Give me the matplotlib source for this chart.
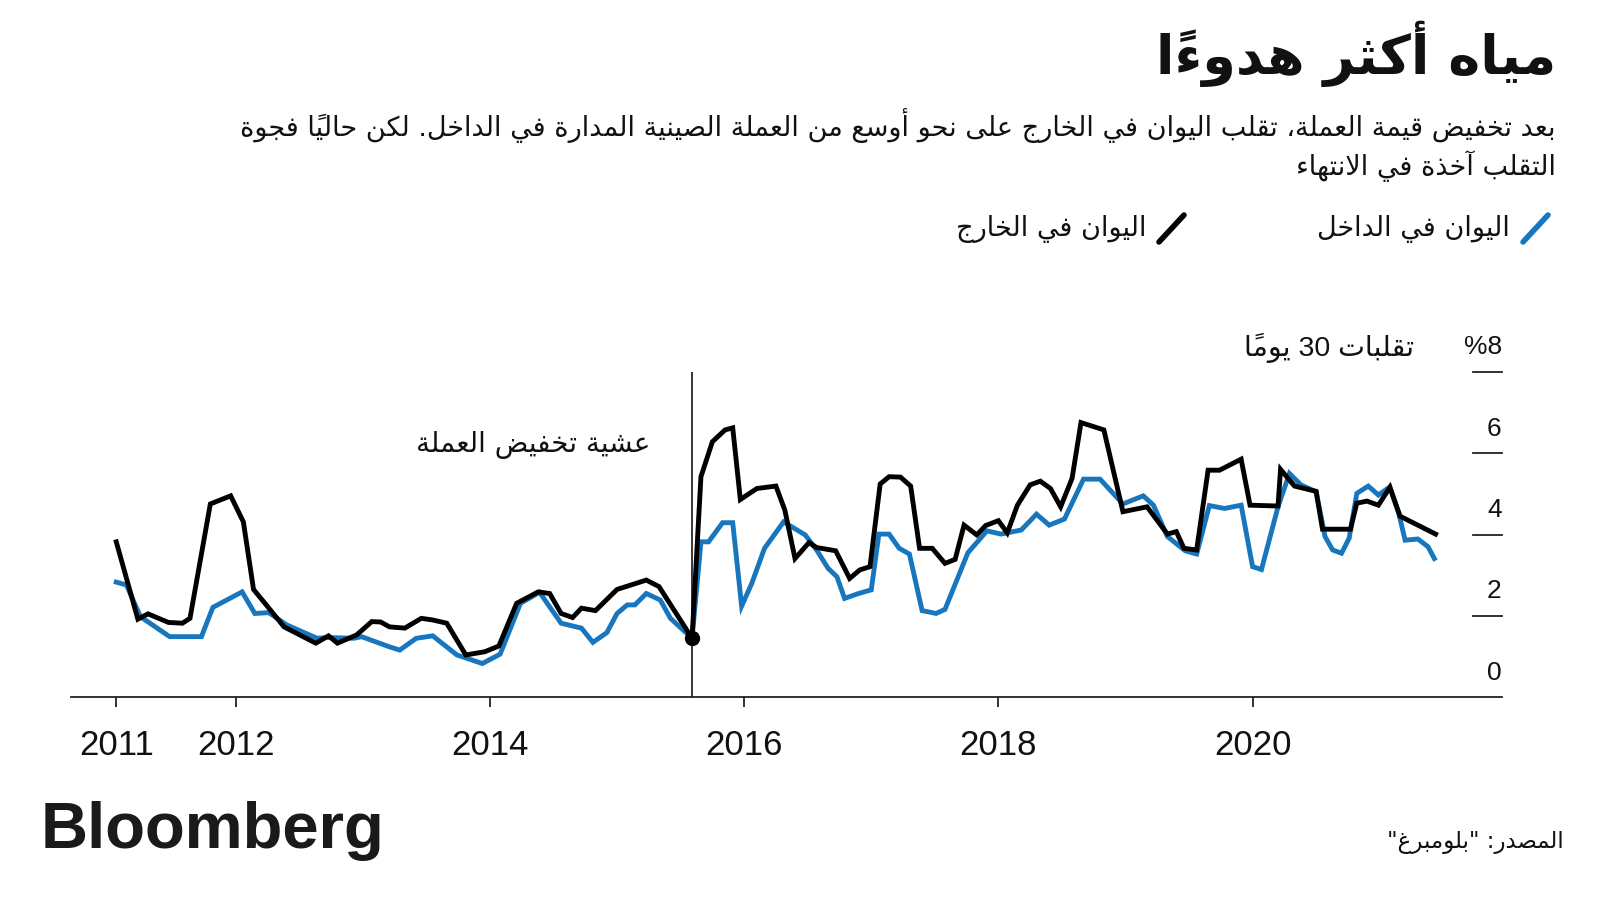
import matplotlib
matplotlib.use("Agg")
import matplotlib.pyplot as plt
from matplotlib.lines import Line2D

plt.rcParams['font.family'] = ['Liberation Sans', 'DejaVu Sans']

# 30-day volatility (%), x in decimal years
onshore_x = [2011.06, 2011.14, 2011.25, 2011.48, 2011.73, 2011.82, 2012.05, 2012.15, 2012.26, 2012.40,
             2012.64, 2012.72, 2012.93, 2012.99, 2013.06, 2013.21, 2013.29, 2013.42, 2013.55, 2013.74,
             2013.94, 2014.08, 2014.24, 2014.39, 2014.56, 2014.72, 2014.81, 2014.92, 2015.00, 2015.08,
             2015.14, 2015.23, 2015.34, 2015.42, 2015.59, 2015.66, 2015.72, 2015.83, 2015.91, 2015.98,
             2016.06, 2016.16, 2016.31, 2016.48, 2016.57, 2016.66, 2016.73, 2016.79, 2016.90, 2017.00,
             2017.06, 2017.14, 2017.22, 2017.30, 2017.40, 2017.51, 2017.58, 2017.76, 2017.91, 2018.02,
             2018.18, 2018.30, 2018.40, 2018.52, 2018.67, 2018.80, 2018.98, 2019.14, 2019.22, 2019.33,
             2019.47, 2019.56, 2019.66, 2019.78, 2019.91, 2020.00, 2020.07, 2020.20, 2020.29, 2020.38,
             2020.50, 2020.57, 2020.63, 2020.70, 2020.76, 2020.82, 2020.91, 2020.99, 2021.08, 2021.15,
             2021.20, 2021.30, 2021.38, 2021.43]
onshore_y = [2.83, 2.76, 1.98, 1.49, 1.49, 2.21, 2.59, 2.06, 2.08, 1.78,
             1.45, 1.47, 1.45, 1.49, 1.41, 1.24, 1.16, 1.45, 1.51, 1.04,
             0.83, 1.06, 2.31, 2.58, 1.82, 1.70, 1.35, 1.59, 2.06, 2.27,
             2.27, 2.55, 2.39, 1.94, 1.45, 3.82, 3.82, 4.29, 4.29, 2.24,
             2.80, 3.66, 4.31, 3.99, 3.62, 3.17, 2.96, 2.43, 2.55, 2.64,
             4.01, 4.01, 3.66, 3.52, 2.13, 2.06, 2.16, 3.55, 4.09, 4.01,
             4.11, 4.50, 4.23, 4.38, 5.36, 5.36, 4.75, 4.95, 4.72, 3.95,
             3.60, 3.52, 4.71, 4.64, 4.72, 3.21, 3.14, 4.68, 5.50, 5.22,
             5.05, 3.95, 3.62, 3.54, 3.91, 5.01, 5.19, 4.97, 5.17, 4.52,
             3.86, 3.89, 3.70, 3.41]

offshore_x = [2011.06, 2011.23, 2011.31, 2011.47, 2011.58, 2011.64, 2011.80, 2011.96, 2012.06, 2012.14,
              2012.24, 2012.38, 2012.63, 2012.73, 2012.80, 2012.95, 2013.07, 2013.14, 2013.21, 2013.33,
              2013.46, 2013.55, 2013.66, 2013.81, 2013.96, 2014.07, 2014.21, 2014.38, 2014.47, 2014.56,
              2014.65, 2014.72, 2014.83, 2015.00, 2015.08, 2015.23, 2015.33, 2015.59, 2015.66, 2015.75,
              2015.85, 2015.91, 2015.97, 2016.10, 2016.25, 2016.32, 2016.40, 2016.51, 2016.57, 2016.72,
              2016.83, 2016.91, 2016.99, 2017.07, 2017.14, 2017.23, 2017.31, 2017.38, 2017.48, 2017.58,
              2017.66, 2017.73, 2017.83, 2017.90, 2018.00, 2018.07, 2018.15, 2018.25, 2018.33, 2018.41,
              2018.49, 2018.58, 2018.65, 2018.83, 2018.98, 2019.17, 2019.33, 2019.40, 2019.46, 2019.56,
              2019.65, 2019.74, 2019.91, 2019.98, 2020.20, 2020.22, 2020.33, 2020.50, 2020.55, 2020.77,
              2020.82, 2020.90, 2020.99, 2021.08, 2021.16, 2021.44]
offshore_y = [3.82, 1.92, 2.05, 1.84, 1.82, 1.94, 4.75, 4.95, 4.31, 2.65,
              2.27, 1.73, 1.33, 1.51, 1.33, 1.53, 1.86, 1.85, 1.73, 1.70,
              1.94, 1.90, 1.82, 1.04, 1.12, 1.26, 2.31, 2.59, 2.55, 2.06,
              1.96, 2.19, 2.13, 2.65, 2.73, 2.88, 2.72, 1.45, 5.42, 6.28,
              6.57, 6.62, 4.86, 5.13, 5.19, 4.60, 3.41, 3.80, 3.68, 3.60,
              2.92, 3.13, 3.21, 5.24, 5.42, 5.41, 5.19, 3.66, 3.66, 3.29,
              3.39, 4.23, 3.99, 4.22, 4.34, 4.04, 4.72, 5.22, 5.31, 5.13,
              4.68, 5.38, 6.75, 6.57, 4.56, 4.68, 4.01, 4.07, 3.66, 3.62,
              5.58, 5.58, 5.85, 4.72, 4.70, 5.60, 5.19, 5.06, 4.13, 4.13,
              4.77, 4.82, 4.72, 5.16, 4.45, 4.01]

deval_x, deval_y = 2015.59, 1.45
year_ticks = [2011.06, 2012, 2014, 2016, 2018, 2020]
year_labels = ['2011', '2012', '2014', '2016', '2018', '2020']
y_ticks = [0, 2, 4, 6, 8]
y_labels = ['0', '2', '4', '6', '%8']

title = 'مياه أكثر هدوءاً'
subtitle = ('بعد تخفيض قيمة العملة، تقلب اليوان في الخارج على نحو أوسع من العملة الصينية المدارة في الداخل. لكن حالياً فجوة\n'
            'التقلب آخذة في الانتهاء')
onshore_name = 'اليوان في الداخل'
offshore_name = 'اليوان في الخارج'
unit_label = 'تقلبات 30 يوماً'
deval_label = 'عشية تخفيض العملة'
source = 'المصدر: "بلومبرغ"'

BLUE = '#1776bd'
BLACK = '#000000'

# --- minimal Arabic shaping + RTL ordering (matplotlib has no complex text layout)
DUAL = dict(zip('\u0626\u0628\u062A\u062B\u062C\u062D\u062E\u0633\u0634\u0635\u0636\u0637'
                '\u0638\u0639\u063A\u0641\u0642\u0643\u0644\u0645\u0646\u0647\u064A',
                [0xFE89, 0xFE8F, 0xFE95, 0xFE99, 0xFE9D, 0xFEA1, 0xFEA5, 0xFEB1, 0xFEB5, 0xFEB9,
                 0xFEBD, 0xFEC1, 0xFEC5, 0xFEC9, 0xFECD, 0xFED1, 0xFED5, 0xFED9, 0xFEDD, 0xFEE1,
                 0xFEE5, 0xFEE9, 0xFEF1]))
RIGHT = dict(zip('\u0622\u0623\u0624\u0625\u0627\u0629\u062F\u0630\u0631\u0632\u0648\u0649',
                 [0xFE81, 0xFE83, 0xFE85, 0xFE87, 0xFE8D, 0xFE93, 0xFEA9, 0xFEAB, 0xFEAD, 0xFEAF,
                  0xFEED, 0xFEEF]))
LAMALEF = dict(zip('\u0622\u0623\u0625\u0627', [0xFEF5, 0xFEF7, 0xFEF9, 0xFEFB]))


def is_mark(c):
    return '\u064B' <= c <= '\u0652'


def shape_line(s):
    n = len(s)

    def nb(i, step):
        j = i + step
        while 0 <= j < n and is_mark(s[j]):
            j += step
        return (s[j], j) if 0 <= j < n else ('', j)

    out = []
    i = 0
    while i < n:
        c = s[i]
        nxt, j = nb(i, 1)
        prev_join = nb(i, -1)[0] in DUAL
        if c == '\u0644' and nxt in LAMALEF:
            out.append(chr(LAMALEF[nxt] + int(prev_join)))
            out.extend(s[i + 1:j])
            i = j + 1
            continue
        if c in DUAL or c in RIGHT:
            next_join = c in DUAL and (nxt in DUAL or nxt in RIGHT)
            base = DUAL[c] if c in DUAL else RIGHT[c]
            form = {(False, False): 0, (True, False): 1, (False, True): 2, (True, True): 3}[(prev_join, next_join)]
            out.append(chr(base + form))
        elif c == '\u0621':
            out.append('\uFE80')
        else:
            out.append(c)
        i += 1
    # group marks with their base, reverse for RTL, keep digit/latin runs LTR
    clusters = []
    for c in out:
        if is_mark(c) and clusters:
            clusters[-1] += c
        else:
            clusters.append(c)
    clusters.reverse()
    res, run = [], []
    for cl in clusters:
        if cl.isascii() and cl.isalnum():
            run.append(cl)
        else:
            res.extend(reversed(run))
            run = []
            res.append(cl)
    res.extend(reversed(run))
    return ''.join(res)


def ar(s):
    return '\n'.join(shape_line(l) for l in s.split('\n'))


def fx(px):
    return px / 1600


def fy(py):
    return 1 - py / 900


fig = plt.figure(figsize=(16, 9), dpi=100)
fig.patch.set_facecolor('white')

AR = ['DejaVu Sans']

fig.text(fx(1556), fy(54), ar(title), family=AR, weight='bold', fontsize=39,
         ha='right', va='center', color='#111111')
fig.text(fx(1556), fy(145), ar(subtitle), family=AR, fontsize=19.5, ha='right', va='center',
         color='#111111', linespacing=1.3)

# legend with slash keys
fig.add_artist(Line2D([fx(1523), fx(1548)], [fy(242), fy(215)], color=BLUE, lw=4,
                      solid_capstyle='round', transform=fig.transFigure))
fig.text(fx(1510), fy(229), ar(onshore_name), family=AR, fontsize=19.5, ha='right', va='center',
         color='#111111')
fig.add_artist(Line2D([fx(1159), fx(1184)], [fy(242), fy(215)], color=BLACK, lw=4,
                      solid_capstyle='round', transform=fig.transFigure))
fig.text(fx(1146), fy(229), ar(offshore_name), family=AR, fontsize=19.5, ha='right', va='center',
         color='#111111')

ax = fig.add_axes([fx(71.4), fy(697.3), fx(1501.7) - fx(71.4), fy(371.7) - fy(697.3)])
ax.set_xlim(2010.707, 2021.96)
ax.set_ylim(0, 8)

ax.plot(onshore_x, onshore_y, color=BLUE, lw=3.5, solid_joinstyle='miter', clip_on=False, zorder=3)
ax.plot(offshore_x, offshore_y, color=BLACK, lw=3.5, solid_joinstyle='miter', clip_on=False, zorder=4)
ax.axvline(deval_x, ymin=0, ymax=1, color=BLACK, lw=1.1, zorder=2)
ax.plot([deval_x], [deval_y], 'o', color=BLACK, ms=10, zorder=5, clip_on=False)
ax.text(2015.26, 6.2, ar(deval_label), family=AR, fontsize=20, ha='right', va='center',
        color='#111111')

for s in ['top', 'left', 'right']:
    ax.spines[s].set_visible(False)
ax.spines['bottom'].set_linewidth(1.3)
ax.spines['bottom'].set_color('#222222')
ax.set_xticks(year_ticks)
ax.set_xticklabels(year_labels, fontsize=25, color='#111111')
ax.tick_params(axis='x', length=7, width=1.3, color='#222222', pad=16)
ax.set_yticks([])

yt = ax.get_yaxis_transform()
for v, lab in zip(y_ticks, y_labels):
    if v > 0:
        ax.plot([0.98, 1.0], [v, v], color='#222222', lw=1.3, transform=yt, clip_on=False)
    ax.text(1.0, v + 0.6, lab, transform=yt, ha='right', va='center', fontsize=19, color='#111111')
ax.text(2021.27, 8.59, ar(unit_label), ha='right', va='center', fontsize=20.5, color='#111111')

fig.text(fx(41), fy(848), 'Bloomberg', family='Liberation Sans', weight='bold', fontsize=47,
         ha='left', va='baseline', color='#1a1a1a')
fig.text(fx(1564), fy(842), ar(source), family=AR, fontsize=16.5, ha='right', va='center',
         color='#111111')

fig.savefig('out.png', dpi=100, facecolor='white')
